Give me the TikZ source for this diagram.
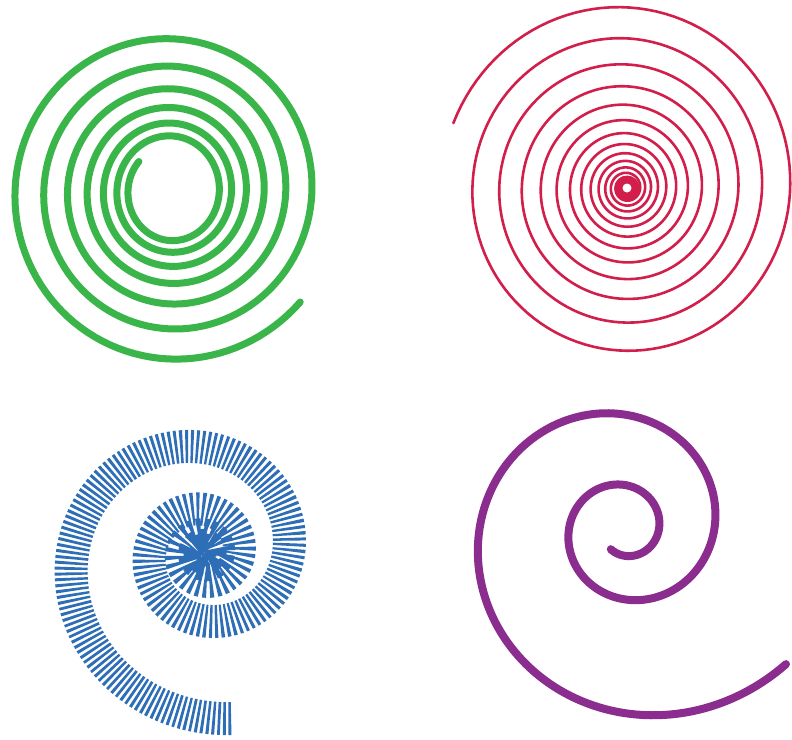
\documentclass[tikz,border=0pt]{standalone}
\definecolor{sgreen}{RGB}{58,181,74}
\definecolor{sred}{RGB}{210,30,75}
\definecolor{sblue}{RGB}{46,110,182}
\definecolor{spurple}{RGB}{139,45,142}
\tikzset{
  spiralline/.style={line cap=round, line join=round},
}
\begin{document}
\begin{tikzpicture}[x=1pt,y=-1pt]
\useasboundingbox (0,0) rectangle (792,739);
\fill[white] (0,0) rectangle (792,739);
\clip (0,0) rectangle (792,739);
% green spiral
\coordinate (gc) at (171,191);
\draw[spiralline, sgreen, line width=7pt]
  plot[domain=140:2480, samples=781, variable=\t]
  ({171+(-10.1+48.3*exp(\t/1894.7))*cos(\t)},
   {191-(-6.1+48.3*exp(\t/1894.7))*sin(\t)});
% red spiral
\coordinate (rc) at (627,188);
\draw[spiralline, sred, line width=2.6pt]
  plot[domain=-4300:160, samples=1487, variable=\t]
  ({627-0.02*(179.4*exp(\t/2064.8)-12.9)+(179.4*exp(\t/2064.8)-12.9)*cos(\t)},
   {188-0.006*(179.4*exp(\t/2064.8)-12.9)-1.03*(179.4*exp(\t/2064.8)-12.9)*sin(\t)});
\fill[sred] (rc) circle (12.5);
\fill[white] (rc) circle (4.5);
% blue spiral
\coordinate (bc) at (204,553);
\draw[sblue, line width=33pt, line cap=butt, line join=round, dash pattern=on 2.7pt off 2.6pt]
  plot[domain=-1000:640, samples=1231, variable=\t]
  ({204+35*exp(\t/407.8)*cos(\t)}, {553-35*exp(\t/407.8)*sin(\t)});
% purple spiral
\coordinate (pc) at (624.6,528.7);
\draw[spiralline, spurple, line width=8pt]
  plot[domain=-124:680, samples=403, variable=\t]
  ({624.6+34.4*exp(\t/375.2)*cos(\t)}, {528.7-34.4*exp(\t/375.2)*sin(\t)});
\end{tikzpicture}
\end{document}
